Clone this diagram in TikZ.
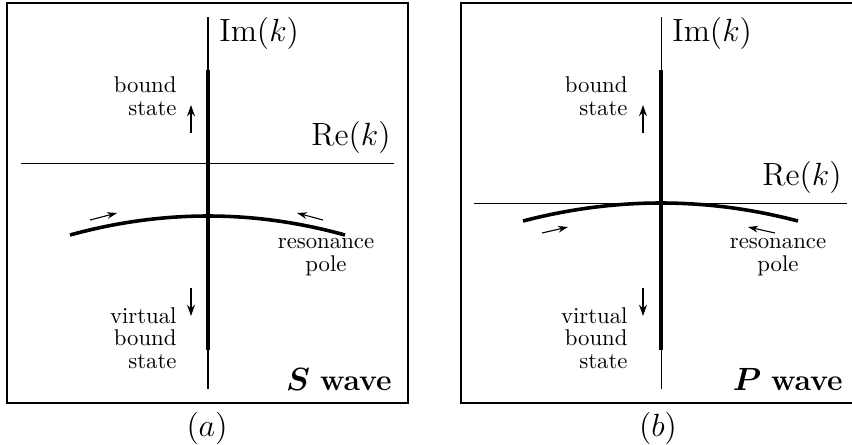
\documentclass[tikz,border=0pt]{standalone}
\usepackage{amsmath, amssymb}
\usepackage{bm}
\usetikzlibrary{arrows.meta}

\tikzset{
  axis/.style={line width=0.45pt},
  pole/.style={line width=1.6pt},
  panelbox/.style={line width=0.75pt},
  moveup/.style={line width=1pt, -{Stealth[length=5pt, width=3.5pt]}},
  drift/.style={line width=0.5pt, -{Stealth[length=4.5pt, width=3pt]}},
  lbl/.style={inner sep=0pt, font=\fontsize{10.2}{10.2}\selectfont},
  biglbl/.style={inner sep=0pt, font=\fontsize{13.5}{15}\selectfont}
}

\begin{document}
\begin{tikzpicture}[x=0.448pt, y=-0.448pt]
  \clip (0,0) rectangle (852,444);

  % (a) S wave
  \begin{scope}
    \draw[panelbox] (7,3) rectangle (408,403);
    \draw[axis] (208,17) -- (208,389);
    \draw[axis] (21,163) -- (394,163);
    \draw[pole] (208,70) -- (208,350);
    % resonance trajectory: parabola, apex on the Im axis
    \draw[pole] (70,235) .. controls (116,222.3) and (162,216) .. (208,216)
                          .. controls (254,216) and (299,222.3) .. (345,235);
    \draw[drift] (90,220) -- (117,213);
    \draw[drift] (323,220) -- (297,213);
    \draw[moveup] (191,133) -- (191,105);
    \draw[moveup] (191,288) -- (191,316);
    \node[biglbl, anchor=west] (ima) at (219,33) {$\mathrm{Im}(k)$};
    \node[biglbl, anchor=east] (rea) at (391,137) {$\mathrm{Re}(k)$};
    \node[lbl, align=right, anchor=east] (bounda) at (177,96) {bound\\state};
    \node[lbl, align=center] (resa) at (326,257) {resonance\\pole};
    \node[lbl, align=right, anchor=east] (virta) at (177,338) {virtual\\bound\\state};
    \node[biglbl, anchor=east] (wavea) at (392,380) {$\bm{S}$ \textbf{wave}};
    \node[biglbl] (capa) at (207,428) {$(a)$};
  \end{scope}

  % (b) P wave
  \begin{scope}[shift={(453,0)}]
    \draw[panelbox] (8,3) rectangle (408,403);
    \draw[axis] (208,17) -- (208,389);
    \draw[axis] (21,203) -- (394,203);
    \draw[pole] (208,70) -- (208,350);
    % resonance trajectory: apex touches the Re axis
    \draw[pole] (70,221) .. controls (116,209) and (162,203) .. (208,203)
                          .. controls (254,203) and (299,209) .. (345,221);
    \draw[drift] (89,233) -- (115,227);
    \draw[drift] (322,233) -- (295,227);
    \draw[moveup] (190,133) -- (190,105);
    \draw[moveup] (190,288) -- (190,316);
    \node[biglbl, anchor=west] (imb) at (219,33) {$\mathrm{Im}(k)$};
    \node[biglbl, anchor=east] (reb) at (389,177) {$\mathrm{Re}(k)$};
    \node[lbl, align=right, anchor=east] (boundb) at (175,96) {bound\\state};
    \node[lbl, align=center] (resb) at (325,257) {resonance\\pole};
    \node[lbl, align=right, anchor=east] (virtb) at (175,338) {virtual\\bound\\state};
    \node[biglbl, anchor=east] (waveb) at (390,380) {$\bm{P}$ \textbf{wave}};
    \node[biglbl] (capb) at (205,428) {$(b)$};
  \end{scope}
\end{tikzpicture}
\end{document}
